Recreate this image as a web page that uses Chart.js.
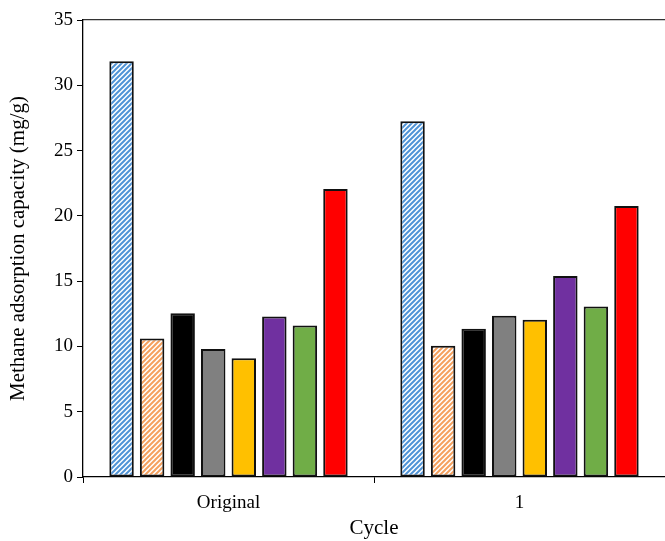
<!DOCTYPE html>
<html>
<head>
<meta charset="utf-8">
<script src="https://cdn.jsdelivr.net/npm/chart.js@4.4.1/dist/chart.umd.min.js"></script>
<style>
html,body{margin:0;padding:0;background:#fff;}
#wrap{width:665px;height:541px;position:relative;}
</style>
</head>
<body>
<div id="wrap"><canvas id="c" width="665" height="541"></canvas></div>
<script>
const categories = ["Original", "1"];
const series1 = [31.85, 27.25];
const series2 = [10.6, 10.05];
const series3 = [12.55, 11.35];
const series4 = [9.8, 12.35];
const series5 = [9.1, 12.05];
const series6 = [12.3, 15.4];
const series7 = [11.6, 13.05];
const series8 = [22.05, 20.75];
const yTicks = [0, 5, 10, 15, 20, 25, 30, 35];

function hatch(color) {
  const s = 5;
  const c = document.createElement('canvas');
  c.width = s; c.height = s;
  const g = c.getContext('2d');
  g.fillStyle = '#fff';
  g.fillRect(0, 0, s, s);
  g.strokeStyle = color;
  g.lineWidth = 2;
  g.beginPath();
  g.moveTo(0, s); g.lineTo(s, 0);
  g.moveTo(-2, 2); g.lineTo(2, -2);
  g.moveTo(s - 2, s + 2); g.lineTo(s + 2, s - 2);
  g.stroke();
  return g.createPattern(c, 'repeat');
}

const fills = [hatch('#4F93D6'), hatch('#F5A05E'), '#000000', '#808080', '#FFC000', '#7030A0', '#70AD47', '#FF0000'];
const allSeries = [series1, series2, series3, series4, series5, series6, series7, series8];

const datasets = allSeries.map((d, i) => ({
  label: 'S' + (i + 1),
  data: d,
  backgroundColor: fills[i],
  borderColor: '#111',
  borderWidth: 2,
  borderSkipped: false,
  barPercentage: 0.8,
  categoryPercentage: 0.84
}));

const fam = '"Liberation Serif", "Times New Roman", serif';
const font = { family: fam, size: 19 };

new Chart(document.getElementById('c'), {
  type: 'bar',
  data: { labels: categories, datasets },
  options: {
    responsive: false,
    animation: false,
    layout: { padding: { top: 20, right: 0, left: 0, bottom: 0 } },
    plugins: { legend: { display: false }, tooltip: { enabled: false } },
    scales: {
      x: {
        position: 'bottom',
        grid: { display: true, drawOnChartArea: false, offset: true, tickLength: 6, color: '#000', lineWidth: 1 },
        border: { color: '#000', width: 1.3 },
        ticks: { font, color: '#000', padding: 9 },
        title: { display: true, text: 'Cycle', font: { family: fam, size: 21 }, color: '#000', padding: { top: 6, bottom: 0 } },
        afterFit: (s) => { s.height = 64; }
      },
      xTop: {
        position: 'top',
        type: 'category',
        labels: categories,
        grid: { display: false, drawTicks: false },
        border: { color: '#333', width: 1.3 },
        ticks: { display: false },
        afterFit: (s) => { s.height = 0; }
      },
      y: {
        min: 0, max: 35,
        afterBuildTicks: (s) => { s.ticks = yTicks.map(v => ({ value: v })); },
        grid: { display: true, drawOnChartArea: false, tickLength: 6, color: '#000' },
        border: { color: '#000', width: 1.3 },
        ticks: { font, color: '#000', padding: 4 },
        title: { display: true, text: 'Methane adsorption capacity (mg/g)', font: { family: fam, size: 21 }, color: '#000', padding: { top: 6, bottom: 4 } },
        afterFit: (s) => { s.width = 83; }
      }
    }
  }
});
</script>
</body>
</html>
